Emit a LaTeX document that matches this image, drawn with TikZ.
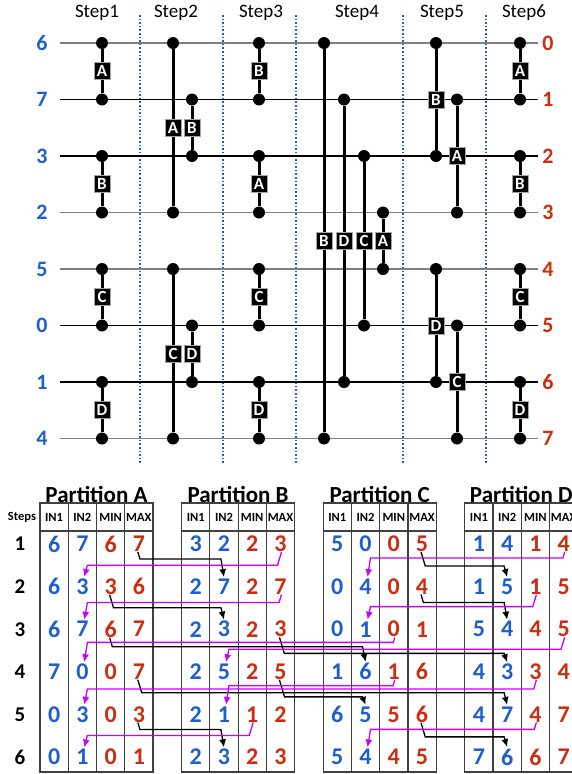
\documentclass[tikz,border=0pt]{standalone}
\usepackage{fontspec}
\setmainfont{Carlito}
\usetikzlibrary{arrows.meta,calc}
\definecolor{numblue}{RGB}{30,95,205}
\definecolor{numred}{RGB}{205,45,15}
\definecolor{xfer}{RGB}{200,0,255}

\begin{document}
\begin{tikzpicture}[x=1pt, y=-1pt, >={Latex[length=8pt,width=7pt]},
	every node/.style={inner sep=0pt},
	wire/.style={line width=1.8pt},
	joint/.style={circle, fill=black, minimum size=12pt},
	cmp/.style={line width=3pt},
	tag/.style={fill=black, draw=gray!70, line width=0.6pt, text=white, minimum width=16pt, minimum height=17pt, font=\fontsize{17}{17}\selectfont\bfseries},
	divider/.style={numblue, line width=1.6pt, dash pattern=on 1.6pt off 2pt},
	grid/.style={black!75, line width=1.2pt},
	ptitle/.style={font=\fontsize{23}{23}\selectfont\bfseries},
	colhd/.style={font=\fontsize{12.5}{13}\selectfont\bfseries},
	inval/.style={numblue, font=\fontsize{24}{24}\selectfont\bfseries},
	outval/.style={numred, font=\fontsize{24}{24}\selectfont\bfseries},
	stepno/.style={font=\fontsize{21}{21}\selectfont\bfseries},
	sendblk/.style={->, line width=1.3pt},
	sendmag/.style={->, xfer, line width=1.3pt}]
	\useasboundingbox (0,0) rectangle (572,774);

	% sorting network
	\foreach \x [count=\s] in {97,176,261,357,442,524}
		\node[font=\fontsize{19}{19}\selectfont] (st\s) at (\x,13) {Step\s};
	\foreach \x in {140,223,296,403,486}
		\draw[divider] (\x,15) -- (\x,464);
	\foreach \v/\c [count=\i from 0] in {6/gray,7/black,3/black,2/gray,5/gray,0/black,1/black,4/gray} {
		\node[numblue, font=\fontsize{22}{22}\selectfont\bfseries] (in\i) at (42,43+56.5*\i) {\v};
		\node[numred, font=\fontsize{22}{22}\selectfont\bfseries] (out\i) at (548,43+56.5*\i) {\i};
		\draw[wire, \c] ([xshift=12pt]in\i.east) -- ([xshift=-4pt]out\i.west);
	}
	\foreach \x/\a/\b/\l [count=\k] in {102/0/1/A, 102/2/3/B, 102/4/5/C, 102/6/7/D,
		173/0/3/A, 192/1/2/B, 173/4/7/C, 192/5/6/D,
		259/0/1/B, 259/2/3/A, 259/4/5/C, 259/6/7/D,
		324/0/7/B, 344/1/6/D, 364/2/5/C, 383/3/4/A,
		436/0/2/B, 457/1/3/A, 436/4/6/D, 457/5/7/C,
		520/0/1/A, 520/2/3/B, 520/4/5/C, 520/6/7/D} {
		\node[joint] (u\k) at (\x,43+56.5*\a) {};
		\node[joint] (v\k) at (\x,43+56.5*\b) {};
		\draw[cmp] (u\k) -- (v\k) node[midway, tag] {\l};
	}

	% partition tables
	\node[colhd] (steps) at (22,517) {Steps};
	\foreach \rw in {1,...,6}
		\node[stepno] (n\rw) at (20,544+42.6*\rw-42.6) {\rw};
	\foreach \pn/\dat [count=\k from 0] in {A/{6/7/6/7,6/3/3/6,6/7/6/7,7/0/0/7,0/3/0/3,0/1/0/1},
		B/{3/2/2/3,2/7/2/7,2/3/2/3,2/5/2/5,2/1/1/2,2/3/2/3},
		C/{5/0/0/5,0/4/0/4,0/1/0/1,1/6/1/6,6/5/5/6,5/4/4/5},
		D/{1/4/1/4,1/5/1/5,5/4/4/5,4/3/3/4,4/7/4/7,7/6/6/7}} {
		\pgfmathsetmacro\xo{40+141.6*\k}
		\node[ptitle] (title\pn) at (\xo+56.5,494) {Partition \pn};
		\draw[grid] (\xo,503) rectangle (\xo+113,772);
		\draw[grid] (\xo,531) -- (\xo+113,531);
		\foreach \c in {1,2,3}
			\draw[grid] (\xo+28.25*\c,503) -- (\xo+28.25*\c,772);
		\foreach \h [count=\c from 0] in {IN1,IN2,MIN,MAX}
			\node[colhd] (hd\pn\c) at (\xo+14.1+28.25*\c,517) {\h};
		\foreach \ia/\ib/\lo/\hi [count=\rw] in \dat {
			\node[inval] (\pn\rw in1) at (\xo+14.1,544+42.6*\rw-42.6) {\ia};
			\node[inval] (\pn\rw in2) at (\xo+42.35,544+42.6*\rw-42.6) {\ib};
			\node[outval] (\pn\rw min) at (\xo+70.6,544+42.6*\rw-42.6) {\lo};
			\node[outval] (\pn\rw max) at (\xo+98.85,544+42.6*\rw-42.6) {\hi};
		}
	}

	% exchanges between partitions
	\foreach \s/\t/\d in {A1max/B2in2/7, C1max/D2in2/14, A2min/B3in2/13, C2max/D3in2/8,
		A3min/C4in2/9, B3max/D4in2/16, A4max/D5in2/13, B4max/C5in2/17,
		A5max/B6in2/7, C5max/D6in2/14}
		\draw[sendblk] ([xshift=-1pt]\s.south) -- ++(0.3*\d,\d) coordinate (k)
			-- ($(k -| \t.north)+(-3,0)$) -- ([yshift=1.5pt]\t.north);
	\foreach \s/\t/\d in {B1max/A2in2/13, D1max/C2in2/6, B2max/A3in2/8, D2min/C3in2/12,
		C3min/A4in2/5, D3max/B4in2/12, C4min/B5in2/6, D4min/A5in2/9,
		B5min/A6in2/13, D5min/C6in2/7}
		\draw[sendmag] ([xshift=1pt]\s.south) -- ++(-0.3*\d,\d) coordinate (k)
			-- ($(k -| \t.north)+(5,0)$) -- ([xshift=2pt,yshift=1.5pt]\t.north);
\end{tikzpicture}
\end{document}
